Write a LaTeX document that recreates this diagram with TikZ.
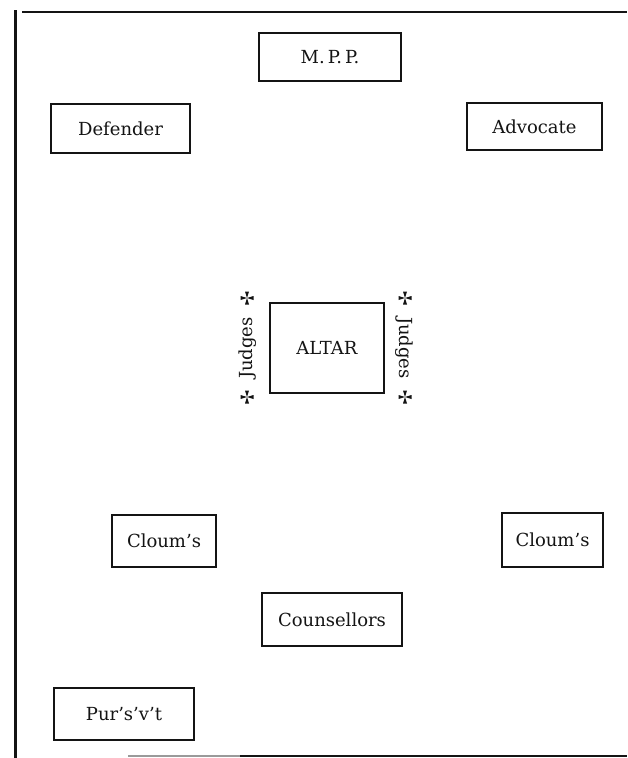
\documentclass[tikz,border=0pt]{standalone}
\usepackage{fontspec}
\setmainfont{DejaVu Serif}
\usepackage{tikz}
\usetikzlibrary{positioning}
\definecolor{PrintInk}{HTML}{141414}
\definecolor{FadedInk}{HTML}{9A9A9A}

\tikzset{
    judgecross/.pic={
        \foreach \a in {0, 90, 180, 270}
            \fill[PrintInk, rotate=\a] (0, 0) -- (-2.0, 6.5) -- (2.0, 6.5) -- cycle;
    }
}

\begin{document}
\begin{tikzpicture}[x=1pt, y=-1pt,
        seatbox/.style={draw=PrintInk, line width=2.6pt, inner sep=0pt, text=PrintInk,
            font=\fontsize{18}{21}\selectfont},
        judgelabel/.style={inner sep=0pt, text=PrintInk, font=\fontsize{18}{21}\selectfont}]
        % Page area and frame rules
        \useasboundingbox (0, 0) rectangle (627, 758);
        \fill[white] (0, 0) rectangle (627, 758);
        \draw[PrintInk, line width=3.0pt] (15, 10) -- (15, 758);
        \draw[PrintInk, line width=2.6pt] (22, 12) -- (627, 12);
        \draw[FadedInk, line width=1.8pt] (128, 756) -- (240, 756);
        \draw[PrintInk, line width=2.2pt] (240, 756) -- (627, 756);

        % Top row of seats
        \node[seatbox, minimum width=142pt, minimum height=48pt] (mpp) at (330, 57) {M.\,P.\,P.};
        \node[seatbox, minimum width=139pt, minimum height=49pt] (defender) at (120.5, 128.5) {Defender};
        \node[seatbox, minimum width=135pt, minimum height=47pt] (advocate) at (534.5, 126.5) {Advocate};

        % Altar with the judges on either side
        \node[seatbox, minimum width=114pt, minimum height=90pt] (altar) at (327, 348) {ALTAR};
        \node[judgelabel, rotate=90] (judgesW) at (248, 348) {Judges};
        \node[judgelabel, rotate=-90] (judgesE) at (404, 348) {Judges};
        \pic at (247, 298) {judgecross};
        \pic at (247, 397) {judgecross};
        \pic at (405, 298) {judgecross};
        \pic at (405, 397) {judgecross};

        % Lower seats
        \node[seatbox, minimum width=104pt, minimum height=52pt] (cloumW) at (164, 541) {Cloum's};
        \node[seatbox, minimum width=101pt, minimum height=54pt] (cloumE) at (552.5, 540) {Cloum's};
        \node[seatbox, minimum width=140pt, minimum height=53pt] (counsellors) at (332, 619.5) {Counsellors};
        \node[seatbox, minimum width=140pt, minimum height=52pt] (pursuivant) at (124, 714) {Pur's'v't};
\end{tikzpicture}
\end{document}
